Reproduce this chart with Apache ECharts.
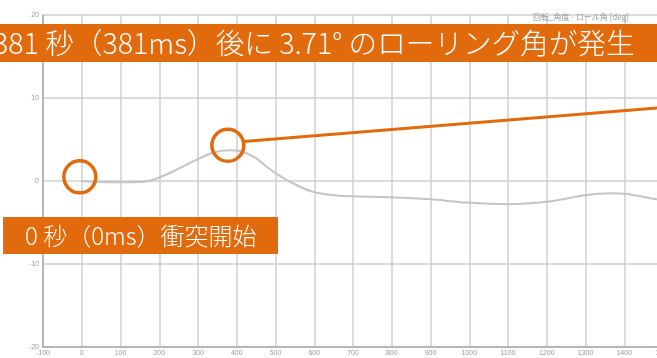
<!DOCTYPE html>
<html><head><meta charset="utf-8">
<script src="https://cdn.jsdelivr.net/npm/echarts@6/dist/echarts.min.js"></script>
<style>html,body{margin:0;padding:0;background:#fff}#c{width:657px;height:358px}</style>
</head><body><div id="c"></div>
<script>
// time (ms) and roll angle (deg)
const times  = [0, 28, 98, 160, 190, 227, 286, 338, 381, 415, 450, 477, 510, 545, 596, 658, 699, 795, 898, 994, 1097, 1200, 1303, 1363, 1406, 1484, 1500];
const values = [0, -0.08, -0.16, -0.1, 0.25, 0.96, 2.33, 3.41, 3.71, 3.53, 2.75, 1.72, 0.65, -0.28, -1.29, -1.75, -1.85, -1.96, -2.2, -2.6, -2.8, -2.5, -1.69, -1.48, -1.57, -2.2, -2.3];
const xTicks = [-100, 1500, 100];
const yTicks = [-20, 20, 10];
// annotation markers (circle centres) and connector line end points
const circleX = [-5, 377];
const circleY = [0.5, 4.3];
const connX = [418, 1500];
const connY = [4.76, 8.86];
const labelTop = "381 秒（381ms）後に 3.71° のローリング角が発生";
const labelBottom = "0 秒（0ms）衝突開始";
const legendText = "回転_角度 - ロール角 [deg]";

const ORANGE = '#E06A0C';
const chart = echarts.init(document.getElementById('c'), null, {renderer: 'canvas'});
const font = '"Noto Sans CJK JP", "Noto Sans", sans-serif';
chart.setOption({
  animation: false,
  backgroundColor: '#fff',
  grid: {left: 43, top: 15, width: 620, height: 332, containLabel: false, outerBoundsMode: 'none'},
  xAxis: {
    type: 'value', min: xTicks[0], max: xTicks[1], interval: xTicks[2],
    axisLine: {onZero: false, lineStyle: {color: '#aaa', width: 1.5}},
    axisTick: {show: false},
    axisLabel: {color: '#999', fontSize: 7, margin: 3, fontFamily: 'Liberation Sans', formatter: v => String(v)},
    splitLine: {lineStyle: {color: '#cfcfcf', width: 1.5}}
  },
  yAxis: {
    type: 'value', min: yTicks[0], max: yTicks[1], interval: yTicks[2],
    axisLine: {show: true, onZero: false, lineStyle: {color: '#aaa', width: 1.5}},
    axisTick: {show: false},
    axisLabel: {color: '#999', fontSize: 7, margin: 4, fontFamily: 'Liberation Sans', formatter: v => String(v)},
    splitLine: {lineStyle: {color: '#cfcfcf', width: 1.5}}
  },
  series: [
    {
      type: 'line', data: times.map((t, i) => [t, values[i]]),
      smooth: 0.35, symbol: 'none',
      lineStyle: {color: '#c4c4c4', width: 2}
    },
    {
      type: 'line', data: connX.map((t, i) => [t, connY[i]]),
      symbol: 'none', clip: false,
      lineStyle: {color: ORANGE, width: 3}, z: 5
    },
    {
      type: 'scatter', data: circleX.map((t, i) => [t, circleY[i]]),
      symbol: 'circle', symbolSize: 32,
      itemStyle: {color: 'rgba(0,0,0,0)', borderColor: ORANGE, borderWidth: 3.5, opacity: 1},
      z: 6
    }
  ],
  graphic: [
    {type: 'text', left: 533, top: 13, z: 10,
     style: {text: legendText, fill: '#999', font: '8px ' + font}},
    {type: 'rect', shape: {x: 0, y: 24, width: 657, height: 38}, style: {fill: ORANGE}, z: 20},
    {type: 'text', x: -7, y: 43, z: 21,
     style: {text: labelTop, fill: '#fff', font: '300 28.6px ' + font, textVerticalAlign: 'middle', verticalAlign: 'middle'}},
    {type: 'rect', shape: {x: 3, y: 217, width: 275, height: 37}, style: {fill: ORANGE}, z: 20},
    {type: 'text', x: 25, y: 236, z: 21,
     style: {text: labelBottom, fill: '#fff', font: '300 24px ' + font, textVerticalAlign: 'middle', verticalAlign: 'middle'}}
  ]
});
</script></body></html>
